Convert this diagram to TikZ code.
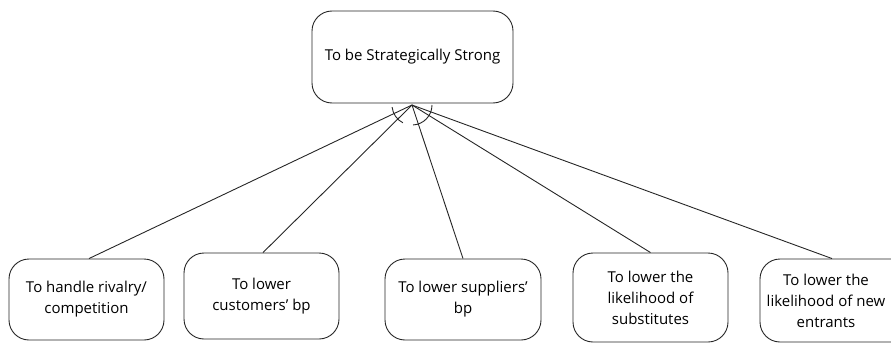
\documentclass[tikz,border=0pt]{standalone}
\usepackage{fontspec}
\setmainfont{Open Sans}
\begin{document}
\begin{tikzpicture}[x=1pt,y=-1pt,
  goal/.style={draw=black!85, line width=0.9pt, rounded corners=20pt, inner sep=0pt, align=center,
    font=\fontsize{15}{21}\selectfont},
  link/.style={draw=black!85, line width=0.9pt},
  txt/.style={align=center, inner sep=0pt, font=\fontsize{15}{21}\selectfont}]
\useasboundingbox (0,0) rectangle (891,345);
\clip (0,0) rectangle (891,345);
\node[goal, minimum width=201pt, minimum height=92pt] (top) at (412.5,57) {To be Strategically Strong};
\coordinate (c) at (412,105);
\node[goal, minimum width=155pt, minimum height=81pt] (b1) at (86.5,299.5) {To handle rivalry/\\competition};
\node[goal, minimum width=155pt, minimum height=86pt] (b2) at (261.5,296) {To lower\\customers' bp};
\node[goal, minimum width=156pt, minimum height=81pt] (b3) at (463,299.5) {To lower suppliers'\\bp};
\node[goal, minimum width=155pt, minimum height=89pt] (b4) at (650.5,297.5) {To lower the\\likelihood of\\substitutes};
\node[goal, minimum width=155pt, minimum height=83pt] (b5) at (837.5,300.5) {};
\node[txt] (b5t) at (826,300.5) {To lower the\\likelihood of new\\entrants};
\draw[link] (c) -- ([xshift=2.5pt]b1.north);
\draw[link] (c) -- ([xshift=1.5pt]b2.north);
\draw[link] (c) -- (b3.north);
\draw[link] (c) -- (b4.north);
\draw[link] (c) -- ([xshift=-5.5pt]b5.north);
\draw[link] (c) ++(174:20) arc[start angle=174, end angle=117, radius=20];
\draw[link] (c) ++(0:20) arc[start angle=0, end angle=87, radius=20];
\end{tikzpicture}
\end{document}
